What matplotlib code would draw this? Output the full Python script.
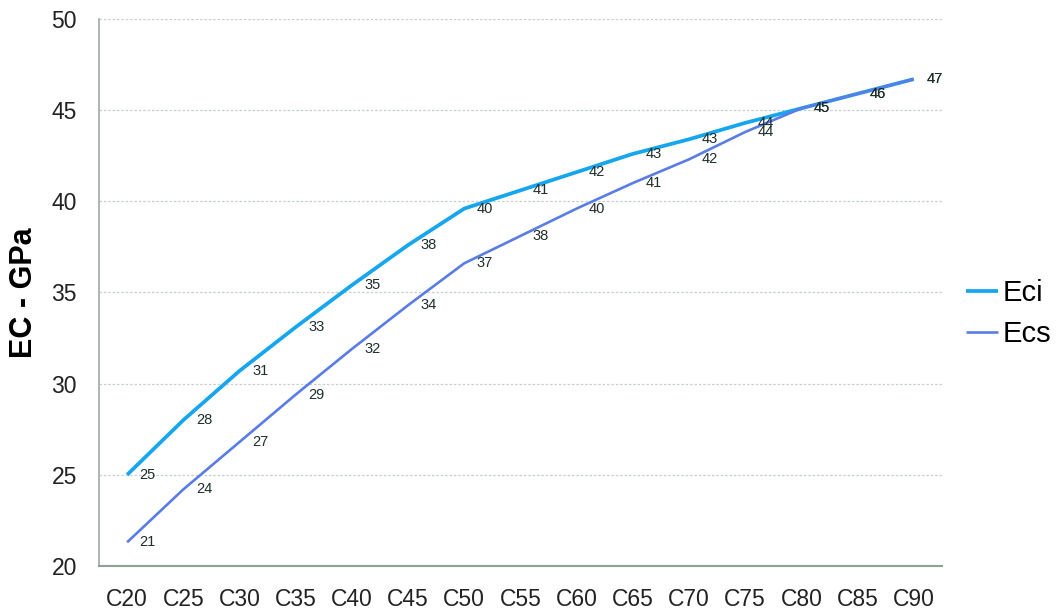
import matplotlib
matplotlib.use("Agg")
import matplotlib.pyplot as plt

plt.rcParams['font.family'] = ['Liberation Sans', 'DejaVu Sans']

# Concrete classes and moduli of elasticity (GPa)
classes = ["C20", "C25", "C30", "C35", "C40", "C45", "C50", "C55",
           "C60", "C65", "C70", "C75", "C80", "C85", "C90"]
eci = [25.0, 28.0, 30.7, 33.1, 35.4, 37.6, 39.6, 40.6,
       41.6, 42.6, 43.4, 44.3, 45.1, 45.9, 46.7]
ecs = [21.3, 24.2, 26.8, 29.4, 31.9, 34.3, 36.6, 38.1,
       39.6, 41.0, 42.3, 43.8, 45.1, 45.9, 46.7]
y_ticks = [20, 25, 30, 35, 40, 45, 50]

fig = plt.figure(figsize=(10.57, 6.12), dpi=100)
ax = fig.add_axes([0.0937, 0.0752, 0.7973, 0.8938])

x = list(range(len(classes)))
ax.plot(x, eci, color="#16a6ee", lw=2.7, label="Eci", solid_capstyle="butt")
ax.plot(x, ecs, color="#5a7ce6", lw=1.9, label="Ecs", solid_capstyle="butt")

for series in (eci, ecs):
    for xi, v in zip(x, series):
        ax.annotate(f"{v:.0f}", (xi, v), xytext=(9, 0), textcoords="offset points",
                    ha="left", va="center", fontsize=10.5, color="#1e2e28")

ax.set_xlim(-0.5, len(classes) - 0.5)
ax.set_ylim(20, 50)
ax.set_yticks(y_ticks)
ax.set_xticks(x)
ax.set_xticklabels(classes)
ax.tick_params(axis="both", length=0, labelsize=16.5, colors="#222222")
ax.tick_params(axis="y", pad=16)
ax.tick_params(axis="x", pad=16)

ax.grid(axis="y", color="#c6d1c8", lw=0.9, ls=(0, (2, 1.5)))
ax.set_axisbelow(True)
for side in ("top", "right"):
    ax.spines[side].set_visible(False)
ax.spines["left"].set_color("#a0a8a8")
ax.spines["bottom"].set_color("#8fa095")
ax.spines["left"].set_linewidth(1.2)
ax.spines["bottom"].set_linewidth(1.5)

ax.set_ylabel("EC - GPa", fontsize=22, fontweight="bold", labelpad=9)

fig.legend(loc="center left", bbox_to_anchor=(0.914, 0.488), frameon=False,
           fontsize=21, handlelength=1.1, handletextpad=0.15, labelspacing=0.45,
           borderpad=0, borderaxespad=0)

fig.savefig("out.png", dpi=100)
